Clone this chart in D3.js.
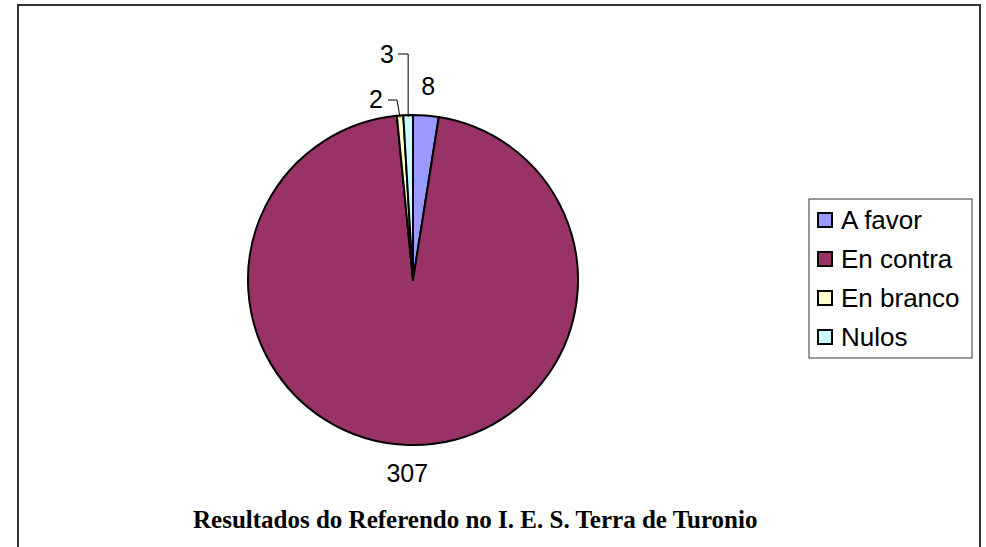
<!DOCTYPE html>
<html>
<head>
<meta charset="utf-8">
<script src="https://cdn.jsdelivr.net/npm/d3@7"></script>
<style>
    body { margin: 0; background: #fff; }
    svg { display: block; }
    .label { font-family: "Liberation Sans", Arial, sans-serif; font-size: 25px; fill: #000; }
    .legendText { font-family: "Liberation Sans", Arial, sans-serif; font-size: 26px; fill: #000; }
    .chartTitle { font-family: "Liberation Serif", "Times New Roman", serif; font-size: 25px; font-weight: bold; fill: #000; }
</style>
</head>
<body>
<script>
(function(){

    //pseudo-global variables
    var categories = ["A favor", "En contra", "En branco", "Nulos"]; //slice names
    var votes = [8, 307, 2, 3]; //votes per slice
    var colors = ["#9999FF", "#993366", "#FFFFCC", "#CCFFFF"];
    var title = "Resultados do Referendo no I. E. S. Terra de Turonio";

    window.onload = setChart();

    function setChart(){
        var width = 986,
            height = 547,
            cx = 413,
            cy = 280,
            radius = 165;

        var svg = d3.select("body")
            .append("svg")
            .attr("width", width)
            .attr("height", height);

        //outer chart frame (bottom edge is off the page)
        svg.append("rect")
            .attr("x", 18)
            .attr("y", 5)
            .attr("width", 962)
            .attr("height", 570)
            .style("fill", "none")
            .style("stroke", "#333")
            .style("stroke-width", 2);

        var data = categories.map(function(c, i){
            return {name: c, value: votes[i], color: colors[i]};
        });

        //pie layout keeps data order, clockwise from 12 o'clock
        var pie = d3.pie()
            .sort(null)
            .value(function(d){ return d.value; });

        var arc = d3.arc()
            .innerRadius(0)
            .outerRadius(radius);

        var arcs = pie(data);

        var g = svg.append("g")
            .attr("transform", "translate(" + cx + "," + cy + ")");

        g.selectAll(".slice")
            .data(arcs)
            .enter()
            .append("path")
            .attr("class", "slice")
            .attr("d", arc)
            .style("fill", function(d){ return d.data.color; })
            .style("stroke", "#000")
            .style("stroke-width", 2)
            .style("stroke-linejoin", "round");

        //label placement: big slices sit outside the mid angle,
        //the two thin ones are pulled up and left with leader lines
        var labelOffsets = {
            "A favor":   {r: radius + 30},
            "En contra": {r: radius + 28},
            "En branco": {tx: -37, ty: -181, lx: -25, ly: -180, hx: -16},
            "Nulos":     {tx: -26, ty: -226, lx: -15, ly: -226, hx: null}
        };

        arcs.forEach(function(d){
            var mid = (d.startAngle + d.endAngle) / 2;
            var o = labelOffsets[d.data.name];
            var ex = radius * Math.sin(mid),
                ey = -radius * Math.cos(mid);
            var tx, ty;
            if (o.lx !== undefined){
                tx = o.tx; ty = o.ty;
                var hx = o.hx === null ? ex : o.hx;
                //leader line: short horizontal then down to the slice edge
                g.append("path")
                    .attr("d", "M" + o.lx + "," + o.ly + "H" + hx + "L" + ex + "," + (ey + 2))
                    .style("fill", "none")
                    .style("stroke", "#000")
                    .style("stroke-width", 1);
            } else {
                tx = o.r * Math.sin(mid);
                ty = -o.r * Math.cos(mid);
            }
            g.append("text")
                .attr("class", "label")
                .attr("x", tx)
                .attr("y", ty + 9)
                .attr("text-anchor", "middle")
                .text(d.data.value);
        });

        //legend box
        var legend = svg.append("g")
            .attr("transform", "translate(809,199)");

        legend.append("rect")
            .attr("width", 163)
            .attr("height", 159)
            .style("fill", "#fff")
            .style("stroke", "#333")
            .style("stroke-width", 1);

        var rowScale = d3.scalePoint()
            .domain(categories)
            .range([21, 138]);

        var rows = legend.selectAll(".legendRow")
            .data(data)
            .enter()
            .append("g")
            .attr("class", "legendRow")
            .attr("transform", function(d){
                return "translate(0," + rowScale(d.name) + ")";
            });

        rows.append("rect")
            .attr("x", 9)
            .attr("y", -7)
            .attr("width", 14)
            .attr("height", 14)
            .style("fill", function(d){ return d.color; })
            .style("stroke", "#000")
            .style("stroke-width", 2);

        rows.append("text")
            .attr("class", "legendText")
            .attr("x", 32)
            .attr("y", 9)
            .text(function(d){ return d.name; });

        //chart title
        svg.append("text")
            .attr("class", "chartTitle")
            .attr("x", 193)
            .attr("y", 528)
            .text(title);
    };

})();
</script>
</body>
</html>
